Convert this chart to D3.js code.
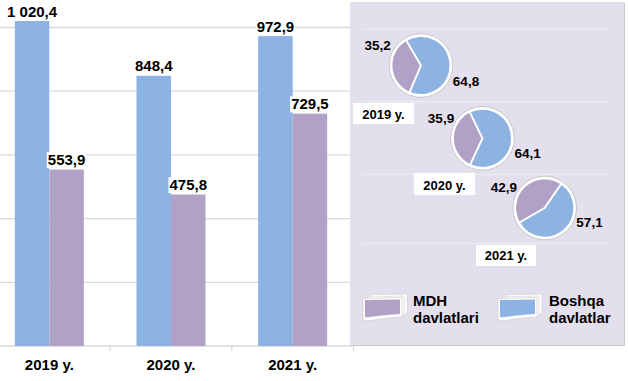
<!DOCTYPE html>
<html><head><meta charset="utf-8">
<script src="https://cdn.jsdelivr.net/npm/d3@7"></script>
<style>
html,body{margin:0;padding:0;background:#fff;}
svg{display:block;font-family:"Liberation Sans",Arial,sans-serif;font-weight:bold;}
</style></head>
<body>
<svg id="chart" width="628" height="381"></svg>
<script>
// ---- data ----
const categories = ["2019 y.", "2020 y.", "2021 y."];
const seriesNames = ["Boshqa davlatlar", "MDH davlatlari"];
const boshqaValues = [1020.4, 848.4, 972.9];
const mdhValues = [553.9, 475.8, 729.5];
const mdhShare = [35.2, 35.9, 42.9];
const boshqaShare = [64.8, 64.1, 57.1];
const yTicks = [0, 200, 400, 600, 800, 1000];
const legendLabels = [["MDH", "davlatlari"], ["Boshqa", "davlatlar"]];

const colors = { boshqa: "#8DB3E2", mdh: "#B2A1C7" };
const loc = d3.formatLocale({decimal: ",", thousands: " ", grouping: [3], currency: ["", ""]});
const fmt = loc.format(",.1f");

const svg = d3.select("#chart");

// ---- bar chart ----
const x = d3.scaleBand().domain(categories).range([-11.5, 353.5]).paddingInner(0.433).paddingOuter(0.2165);
const xs = d3.scaleBand().domain(seriesNames).range([0, x.bandwidth()]).padding(0);
const y = d3.scaleLinear().domain([0, 1000]).range([346, 27.5]);

// gridlines
svg.append("g").selectAll("line").data(yTicks).join("line")
  .attr("x1", 0).attr("x2", 352)
  .attr("y1", d => y(d)).attr("y2", d => y(d))
  .attr("stroke", "#D9D9D9").attr("stroke-width", 1.3);

const rows = categories.map((c, i) => ({cat: c, vals: [
  {s: seriesNames[0], v: boshqaValues[i], color: colors.boshqa},
  {s: seriesNames[1], v: mdhValues[i], color: colors.mdh}
]}));

const groups = svg.append("g").selectAll("g").data(rows).join("g")
  .attr("transform", d => `translate(${x(d.cat)},0)`);

groups.selectAll("rect").data(d => d.vals).join("rect")
  .attr("x", d => xs(d.s)).attr("width", xs.bandwidth())
  .attr("y", d => y(d.v)).attr("height", d => y(0) - y(d.v))
  .attr("fill", d => d.color);

// value labels with white background
groups.each(function(d) {
  const g = d3.select(this);
  d.vals.forEach(v => {
    const cx = xs(v.s) + xs.bandwidth() / 2;
    const t = g.append("text").attr("x", cx).attr("y", y(v.v) - 4.3)
      .attr("text-anchor", "middle").attr("font-size", 15).attr("fill", "#000")
      .text(fmt(v.v));
    const bb = t.node().getBBox();
    g.insert("rect", "text").attr("x", bb.x - 1).attr("y", bb.y + 1)
      .attr("width", bb.width + 2).attr("height", bb.height - 1).attr("fill", "#fff");
  });
});

// category tick marks
const bounds = categories.map(c => x(c) - x.step() * x.paddingInner() / 2).slice(1)
  .concat([x(categories[categories.length - 1]) + x.bandwidth() + x.step() * x.paddingInner() / 2]);
svg.append("g").selectAll("line").data(bounds).join("line")
  .attr("x1", d => d).attr("x2", d => d).attr("y1", y(0)).attr("y2", y(0) + 5)
  .attr("stroke", "#D9D9D9").attr("stroke-width", 1.3);

// x labels
svg.append("g").selectAll("text").data(categories).join("text")
  .attr("x", d => x(d) + x.bandwidth() / 2).attr("y", 370)
  .attr("text-anchor", "middle").attr("font-size", 15).attr("fill", "#000")
  .text(d => d);

// ---- right panel ----
svg.append("rect").attr("x", 351).attr("y", 3).attr("width", 274).attr("height", 343)
  .attr("fill", "#C8C8C8");
svg.append("rect").attr("x", 350).attr("y", 2).attr("width", 274).attr("height", 343)
  .attr("fill", "#E4DFEC");

const panelGrid = [29.3, 101.7, 174.3, 243.3];
svg.append("g").selectAll("line").data(panelGrid).join("line")
  .attr("x1", 363).attr("x2", 608).attr("y1", d => d).attr("y2", d => d)
  .attr("stroke", "#EEEAF3").attr("stroke-width", 1.3);

// pies
const pieLayout = [
  {cx: 421, cy: 65.5, start: 203, lab1: [377.7, 50], lab2: [466, 86], box: [353, 103, 61, 21], yl: [383.5, 118.5]},
  {cx: 482.5, cy: 138.3, start: 205, lab1: [441, 122.7], lab2: [527.7, 158.3], box: [414, 173, 61, 22], yl: [444.5, 190]},
  {cx: 544.7, cy: 208, start: 240, lab1: [503.8, 192.3], lab2: [589.5, 226.7], box: [476, 245, 60, 21], yl: [506, 259.5]}
];
const R = 31.5;
const arc = d3.arc().innerRadius(0).outerRadius(R - 2);
const pieG = svg.append("g");
categories.forEach((c, i) => {
  const L = pieLayout[i];
  const g = pieG.append("g").attr("transform", `translate(${L.cx},${L.cy})`);
  g.append("circle").attr("r", R + 0.3).attr("fill", "#fff").attr("stroke", "#BDBDBD").attr("stroke-width", 0.8);
  const startRad = L.start * Math.PI / 180;
  const pie = d3.pie().sort(null).value(d => d.v)
    .startAngle(startRad).endAngle(startRad + 2 * Math.PI);
  const slices = pie([{v: mdhShare[i], color: colors.mdh}, {v: boshqaShare[i], color: colors.boshqa}]);
  g.selectAll("path").data(slices).join("path")
    .attr("d", arc).attr("fill", d => d.data.color)
    .attr("stroke", "#fff").attr("stroke-width", 1.8).attr("stroke-linejoin", "round");

  pieG.append("text").attr("x", L.lab1[0]).attr("y", L.lab1[1]).attr("text-anchor", "middle")
    .attr("font-size", 13.5).text(fmt(mdhShare[i]));
  pieG.append("text").attr("x", L.lab2[0]).attr("y", L.lab2[1]).attr("text-anchor", "middle")
    .attr("font-size", 13.5).text(fmt(boshqaShare[i]));
  pieG.append("rect").attr("x", L.box[0]).attr("y", L.box[1]).attr("width", L.box[2]).attr("height", L.box[3])
    .attr("fill", "#fff");
  pieG.append("text").attr("x", L.yl[0]).attr("y", L.yl[1]).attr("text-anchor", "middle")
    .attr("font-size", 13).text(c);
});

// legend
const legendLayout = [
  {sx: 364, tx: 413, color: colors.mdh},
  {sx: 499, tx: 549, color: colors.boshqa}
];
legendLabels.forEach((lab, i) => {
  const L = legendLayout[i];
  const g = svg.append("g").attr("transform", `translate(${L.sx},297)`);
  g.append("path").attr("d", "M6,-2 L43,-3 L43,17 L6,19 Z").attr("fill", "#fff").attr("stroke", "#D0D0D0").attr("stroke-width", 0.6);
  g.append("path").attr("d", "M3,0 L40,-1 L40,19 L3,21 Z").attr("fill", "#fff").attr("stroke", "#D0D0D0").attr("stroke-width", 0.6);
  g.append("path").attr("d", "M-1,1.5 L38,0.5 L38,20 Q20,21 10,23 Q4,24 -1,23.5 Z")
    .attr("fill", "#fff").attr("stroke", "#C8C8C8").attr("stroke-width", 0.6);
  g.append("path").attr("d", "M1,3 L36,2.5 L36,17 Q20,18 10,19.5 Q5,20.5 1,20 Z")
    .attr("fill", L.color);
  const t = svg.append("text").attr("x", L.tx).attr("font-size", 15).attr("fill", "#000");
  t.append("tspan").attr("x", L.tx).attr("y", 305.7).text(lab[0]);
  t.append("tspan").attr("x", L.tx).attr("y", 322.5).text(lab[1]);
});
</script>
</body></html>
